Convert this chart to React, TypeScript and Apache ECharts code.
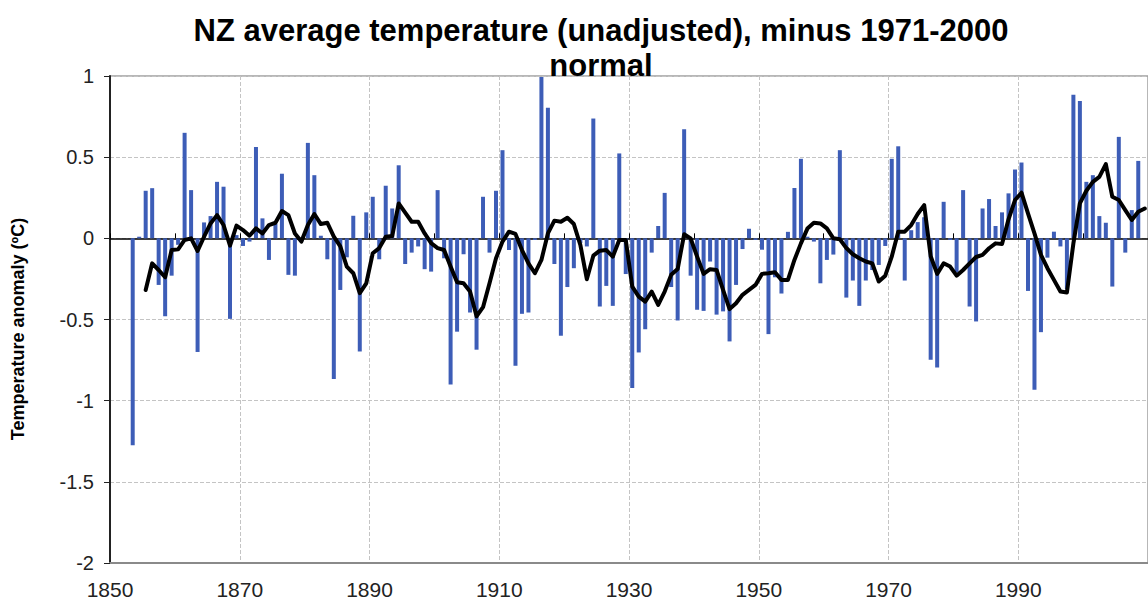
import React, { useEffect, useRef } from "react";
import * as echarts from "echarts";

const FONT = '"Liberation Sans", Arial, Helvetica, sans-serif';

const titleText = "NZ average temperature (unadjusted), minus 1971-2000\nnormal";
const yAxisTitle = "Temperature anomaly (ºC)";

// Annual anomalies, one per year starting 1853
const firstBarYear = 1853;
const anomalies = [
  -1.275, 0.01, 0.293, 0.309, -0.287, -0.48, -0.23, // 1853-1859
  -0.04, 0.65, 0.297, -0.70, 0.098, 0.137, 0.348, 0.318, -0.496, 0.02, // 1860s
  -0.047, -0.02, 0.563, 0.123, -0.133, 0.09, 0.398, -0.225, -0.23, -0.02, // 1870s
  0.588, 0.389, 0.016, -0.129, -0.867, -0.318, -0.117, 0.139, -0.697, 0.16, // 1880s
  0.256, -0.129, 0.324, 0.184, 0.45, -0.158, -0.088, -0.05, -0.19, -0.205, // 1890s
  0.297, -0.123, -0.9, -0.575, -0.098, -0.457, -0.686, 0.256, -0.088, 0.293, // 1900s
  0.543, -0.072, -0.785, -0.465, -0.457, -0.01, 0.994, 0.805, -0.158, -0.6, // 1910s
  -0.3, -0.184, -0.03, -0.05, 0.738, -0.42, -0.293, -0.416, 0.523, -0.22, // 1920s
  -0.922, -0.703, -0.56, -0.088, 0.076, 0.28, -0.3, -0.506, 0.672, -0.23, // 1930s
  -0.44, -0.447, -0.143, -0.47, -0.45, -0.635, -0.287, -0.066, 0.059, -0.01, // 1940s
  -0.07, -0.59, -0.24, -0.34, 0.04, 0.31, 0.49, 0.01, -0.02, -0.277, // 1950s
  -0.133, -0.1, 0.543, -0.365, -0.26, -0.416, -0.26, -0.195, -0.164, -0.047, // 1960s
  0.49, 0.567, -0.26, 0.05, 0.1, 0.13, -0.748, -0.795, 0.225, -0.01, // 1970s
  -0.21, 0.297, -0.42, -0.512, 0.184, 0.242, 0.076, 0.16, 0.277, 0.424, // 1980s
  0.467, -0.324, -0.932, -0.578, -0.119, 0.041, -0.05, -0.313, 0.885, 0.846, // 1990s
  0.348, 0.389, 0.137, 0.096, -0.297, 0.625, -0.088, 0.174, 0.477, // 2000-2008
];

// Running mean line, one per year starting 1855
const firstLineYear = 1855;
const runningMean = [
  -0.318, -0.154, -0.195, -0.24, -0.072, // 1855-1859
  -0.068, -0.01, 0.0, -0.078, 0.01, 0.092, 0.143, 0.082, -0.045, 0.078, // 1860s
  0.051, 0.016, 0.061, 0.03, 0.082, 0.096, 0.168, 0.143, 0.03, -0.02, // 1870s
  0.082, 0.15, 0.088, 0.096, 0.01, -0.05, -0.174, -0.215, -0.338, -0.277, // 1880s
  -0.092, -0.06, 0.01, 0.014, 0.215, 0.158, 0.102, 0.102, 0.03, -0.03, // 1890s
  -0.06, -0.072, -0.174, -0.27, -0.277, -0.328, -0.48, -0.424, -0.277, -0.123, // 1900s
  -0.02, 0.041, 0.027, -0.072, -0.154, -0.215, -0.133, 0.03, 0.109, 0.102, // 1910s
  0.127, 0.088, -0.041, -0.252, -0.107, -0.076, -0.072, -0.113, -0.01, -0.01, // 1920s
  -0.297, -0.359, -0.39, -0.328, -0.41, -0.328, -0.225, -0.189, 0.025, 0.0, // 1930s
  -0.113, -0.219, -0.19, -0.195, -0.318, -0.436, -0.4, -0.348, -0.318, -0.287, // 1940s
  -0.219, -0.215, -0.209, -0.256, -0.256, -0.133, -0.031, 0.06, 0.096, 0.092, // 1950s
  0.061, 0.0, -0.006, -0.06, -0.098, -0.123, -0.143, -0.154, -0.266, -0.23, // 1960s
  -0.113, 0.041, 0.041, 0.082, 0.15, 0.205, -0.11, -0.219, -0.154, -0.174, // 1970s
  -0.23, -0.195, -0.154, -0.115, -0.102, -0.061, -0.031, -0.035, 0.117, 0.236, // 1980s
  0.281, 0.154, 0.031, -0.102, -0.184, -0.256, -0.328, -0.334, -0.031, 0.215, // 1990s
  0.293, 0.348, 0.379, 0.457, 0.256, 0.236, 0.174, 0.113, 0.164, 0.184, // 2000-2009
];

const xMin = 1850;
const xMax = 2010;
const yMin = -2;
const yMax = 1;

export default function App() {
  const ref = useRef<HTMLDivElement>(null);

  useEffect(() => {
    if (!ref.current) return;
    const chart = echarts.init(ref.current, undefined, { renderer: "svg" });
    const barData = anomalies.map((v, i) => [firstBarYear + i + 0.5, v]);
    const lineData = runningMean.map((v, i) => [firstLineYear + i + 0.5, v]);

    chart.setOption({
      animation: false,
      backgroundColor: "#ffffff",
      title: {
        text: titleText,
        left: 596,
        top: 8,
        textAlign: "center",
        textStyle: {
          fontFamily: FONT,
          fontWeight: "bold",
          fontSize: 31,
          lineHeight: 35,
          color: "#000",
        },
      },
      graphic: [
        {
          type: "text",
          x: 18,
          y: 329,
          rotation: Math.PI / 2,
          style: {
            text: yAxisTitle,
            align: "center",
            verticalAlign: "middle",
            fontFamily: FONT,
            fontWeight: "bold",
            fontSize: 18,
            fill: "#000",
          },
        },
      ],
      grid: {
        left: 110,
        right: -2,
        top: 76,
        bottom: 40,
        show: true,
        borderColor: "#a0a0a0",
        borderWidth: 1.5,
      },
      xAxis: [
        {
          type: "value",
          min: xMin,
          max: xMax,
          interval: 20,
          position: "bottom",
          axisLine: { onZero: false, lineStyle: { color: "#8a8a8a", width: 2 } },
          axisTick: { show: false },
          axisLabel: {
            fontSize: 21,
            color: "#222",
            margin: 16,
            fontFamily: FONT,
            showMaxLabel: false,
            formatter: (v: number) => String(v),
          },
          splitLine: {
            show: true,
            lineStyle: { type: "dashed", color: "#c4c4c4", width: 1 },
          },
        },
        {
          type: "value",
          min: xMin,
          max: xMax,
          interval: 10,
          position: "bottom",
          axisLine: { onZero: true, lineStyle: { color: "#000", width: 1.5 } },
          axisTick: { show: true, inside: true, length: 5, lineStyle: { color: "#000" } },
          axisLabel: { show: false },
          splitLine: { show: false },
        },
      ],
      yAxis: {
        type: "value",
        min: yMin,
        max: yMax,
        interval: 0.5,
        axisLine: { show: true, onZero: false, lineStyle: { color: "#222", width: 2 } },
        axisTick: { show: true, length: 6, lineStyle: { color: "#222" } },
        axisLabel: { fontSize: 20, color: "#222", margin: 16, fontFamily: FONT },
        splitLine: { lineStyle: { type: "dashed", color: "#c4c4c4" } },
      },
      series: [
        {
          type: "bar",
          xAxisIndex: 0,
          data: barData,
          barWidth: 4,
          itemStyle: { color: "#3D5DB7" },
          z: 2,
        },
        {
          type: "line",
          xAxisIndex: 0,
          data: lineData,
          symbol: "none",
          lineStyle: { color: "#000", width: 4, join: "round", cap: "round" },
          z: 3,
        },
      ],
    });

    return () => chart.dispose();
  }, []);

  return (
    <div
      ref={ref}
      style={{ position: "fixed", left: 0, top: 0, width: 1148, height: 603, background: "#fff" }}
    />
  );
}
